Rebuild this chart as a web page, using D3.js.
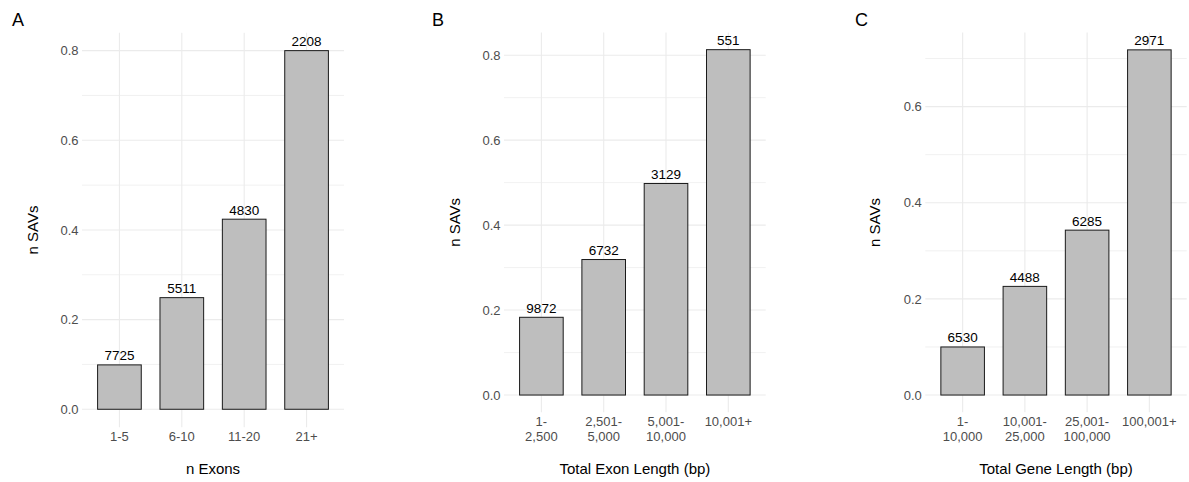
<!DOCTYPE html>
<html>
<head>
<meta charset="utf-8">
<script src="https://cdn.jsdelivr.net/npm/d3@7"></script>
<style>
  html, body { margin: 0; padding: 0; background: #fff; }
  svg { display: block; font-family: "Liberation Sans", Arial, sans-serif; }
</style>
</head>
<body>
<svg id="chart" width="1189" height="482"></svg>
<script>
// Panel A: number of exons
const exonCats = ["1-5", "6-10", "11-20", "21+"];
const exonValues = [0.099, 0.249, 0.424, 0.800];
const exonCounts = [7725, 5511, 4830, 2208];

// Panel B: total exon length
const exonLenCats = [["1-", "2,500"], ["2,501-", "5,000"], ["5,001-", "10,000"], ["10,001+"]];
const exonLenValues = [0.183, 0.319, 0.498, 0.813];
const exonLenCounts = [9872, 6732, 3129, 551];

// Panel C: total gene length
const geneLenCats = [["1-", "10,000"], ["10,001-", "25,000"], ["25,001-", "100,000"], ["100,001+"]];
const geneLenValues = [0.100, 0.226, 0.343, 0.718];
const geneLenCounts = [6530, 4488, 6285, 2971];

const yMajorA = [0, 0.2, 0.4, 0.6, 0.8];
const yMajorB = [0, 0.2, 0.4, 0.6, 0.8];
const yMajorC = [0, 0.2, 0.4, 0.6];

const svg = d3.select("#chart");

const panels = [
  { tag: "A", cats: exonCats.map(c => [c]), values: exonValues, counts: exonCounts,
    ticks: yMajorA, xTitle: "n Exons", left: 82, right: 344, top: 32.7, bottom: 427.2,
    tagX: 12, yTitleX: 33 },
  { tag: "B", cats: exonLenCats, values: exonLenValues, counts: exonLenCounts,
    ticks: yMajorB, xTitle: "Total Exon Length (bp)", left: 504, right: 765.7, top: 32.4, bottom: 412.3,
    tagX: 432, yTitleX: 455 },
  { tag: "C", cats: geneLenCats, values: geneLenValues, counts: geneLenCounts,
    ticks: yMajorC, xTitle: "Total Gene Length (bp)", left: 925.3, right: 1186.7, top: 32.6, bottom: 412.3,
    tagX: 855, yTitleX: 875 }
];

panels.forEach(p => {
  const g = svg.append("g");
  const maxV = d3.max(p.values);
  // ggplot-style 5% expansion of the continuous axis
  const y = d3.scaleLinear().domain([-0.05 * maxV, 1.05 * maxV]).range([p.bottom, p.top]);
  const keys = p.cats.map(c => c.join(" "));
  const x = d3.scalePoint().domain(keys).range([p.left, p.right]).padding(0.6);
  const bw = x.step() * 0.7;

  // minor gridlines between major ticks
  const minor = [];
  for (let i = 0; i < p.ticks.length; i++) {
    const next = i + 1 < p.ticks.length ? p.ticks[i + 1] : p.ticks[i] + 0.2;
    const mid = (p.ticks[i] + next) / 2;
    if (mid <= y.domain()[1]) minor.push(mid);
  }
  g.selectAll(".minor").data(minor).join("line")
    .attr("x1", p.left).attr("x2", p.right)
    .attr("y1", d => y(d)).attr("y2", d => y(d))
    .attr("stroke", "#ebebeb").attr("stroke-width", 0.7);

  // major horizontal gridlines
  g.selectAll(".major").data(p.ticks).join("line")
    .attr("x1", p.left).attr("x2", p.right)
    .attr("y1", d => y(d)).attr("y2", d => y(d))
    .attr("stroke", "#ebebeb").attr("stroke-width", 1.1);

  // vertical gridlines at categories
  g.selectAll(".vgrid").data(keys).join("line")
    .attr("x1", d => x(d)).attr("x2", d => x(d))
    .attr("y1", p.top).attr("y2", p.bottom)
    .attr("stroke", "#ebebeb").attr("stroke-width", 1.1);

  // bars
  g.selectAll(".bar").data(p.values).join("rect")
    .attr("x", (d, i) => x(keys[i]) - bw / 2)
    .attr("width", bw)
    .attr("y", d => y(d))
    .attr("height", d => y(0) - y(d))
    .attr("fill", "#bebebe")
    .attr("stroke", "#1a1a1a")
    .attr("stroke-width", 1);

  // count labels above bars
  g.selectAll(".lbl").data(p.values).join("text")
    .attr("x", (d, i) => x(keys[i]))
    .attr("y", d => y(d) - 4.5)
    .attr("text-anchor", "middle")
    .attr("font-size", 13.5)
    .attr("fill", "#000")
    .text((d, i) => p.counts[i]);

  // y tick labels
  g.selectAll(".ytick").data(p.ticks).join("text")
    .attr("x", p.left - 3.5)
    .attr("y", d => y(d))
    .attr("dy", "0.36em")
    .attr("text-anchor", "end")
    .attr("font-size", 13)
    .attr("fill", "#4d4d4d")
    .text(d => d3.format(".1f")(d));

  // x tick labels (possibly two lines)
  const xt = g.selectAll(".xtick").data(p.cats).join("text")
    .attr("text-anchor", "middle")
    .attr("font-size", 13)
    .attr("fill", "#4d4d4d");
  xt.each(function(lines, i) {
    const t = d3.select(this);
    lines.forEach((ln, j) => {
      t.append("tspan")
        .attr("x", x(keys[i]))
        .attr("y", p.bottom + 14 + j * 14.3)
        .text(ln);
    });
  });

  // axis titles
  g.append("text")
    .attr("x", (p.left + p.right) / 2)
    .attr("y", 473.5)
    .attr("text-anchor", "middle")
    .attr("font-size", 15)
    .attr("fill", "#000")
    .text(p.xTitle);

  g.append("text")
    .attr("transform", `translate(${p.yTitleX},${(p.top + p.bottom) / 2}) rotate(-90)`)
    .attr("dy", "0.36em")
    .attr("text-anchor", "middle")
    .attr("font-size", 15)
    .attr("fill", "#000")
    .text("n SAVs");

  // panel tag
  g.append("text")
    .attr("x", p.tagX)
    .attr("y", 26)
    .attr("font-size", 18)
    .attr("fill", "#000")
    .text(p.tag);
});
</script>
</body>
</html>
